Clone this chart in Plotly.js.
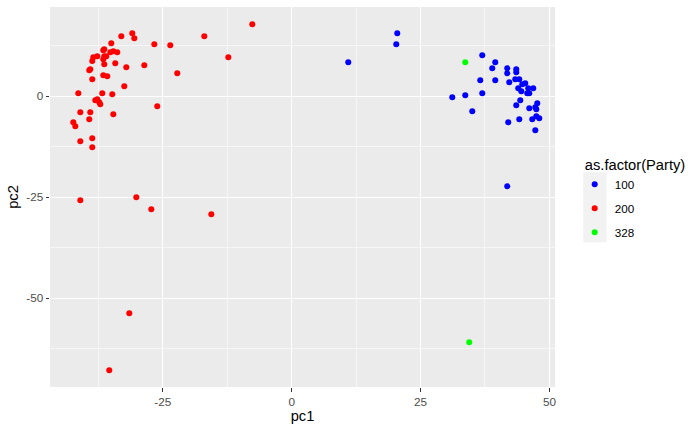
<!DOCTYPE html>
<html>
<head>
<meta charset="utf-8">
<script src="https://cdn.plot.ly/plotly-3.0.1.min.js"></script>
<style>html,body{margin:0;padding:0;background:#fff;}#chart{width:700px;height:432px;}</style>
</head>
<body>
<div id="chart"></div>
<script>
// Party 100
var pc1_100 = [20.48, 20.29, 10.98, 36.97, 39.49, 38.91, 41.82, 41.82, 43.57, 43.57,
  36.58, 39.49, 42.21, 43.37, 44.15, 44.73, 45.31, 43.95, 44.54, 45.89,
  46.86, 45.70, 46.09, 36.97, 33.67, 31.15, 44.34, 43.57, 47.64, 46.09,
  47.26, 47.45, 35.03, 42.01, 44.15, 46.67, 47.45, 48.03, 47.26, 41.82];
var pc2_100 = [15.59, 12.87, 8.42, 10.15, 8.42, 6.93, 6.93, 5.69, 6.68, 5.94,
  3.96, 3.96, 3.47, 4.21, 4.21, 2.97, 3.22, 1.98, 1.24, 1.98,
  1.98, 0.74, 0.74, 0.74, 0.25, -0.25, -0.99, -2.23, -1.73, -2.97,
  -2.72, -3.22, -3.71, -6.44, -5.69, -5.69, -4.95, -5.45, -8.42, -22.28];
// Party 200
var pc1_200 = [-7.64, -16.95, -12.29, -33.05, -30.92, -30.53, -26.65, -23.55, -34.99, -36.54,
  -36.35, -35.18, -34.60, -33.83, -38.48, -37.71, -38.68, -36.54, -35.96, -36.35,
  -36.35, -34.22, -28.59, -32.08, -39.26, -39.07, -22.19, -36.54, -35.77, -38.68,
  -32.47, -41.39, -36.74, -34.80, -38.09, -37.71, -37.32, -37.13, -26.07, -41.00,
  -39.07, -34.60, -39.26, -42.36, -41.97, -38.68, -41.00, -38.68, -41.00, -30.14,
  -27.23, -15.59, -31.50, -35.38];
var pc2_200 = [17.82, 14.85, 9.65, 14.85, 15.59, 14.36, 12.87, 12.62, 13.12, 11.39,
  11.63, 10.89, 11.14, 10.89, 9.65, 9.90, 8.74, 9.16, 9.90, 9.90,
  7.92, 8.17, 7.67, 7.18, 6.44, 6.68, 5.69, 5.20, 4.95, 4.21,
  2.48, 0.74, 0.74, 0.50, -0.99, -0.74, -1.49, -1.98, -2.48, -3.96,
  -3.96, -4.46, -5.69, -6.44, -7.43, -10.40, -11.14, -12.62, -25.74, -25.00,
  -27.97, -29.21, -53.71, -67.82];
// Party 328
var pc1_328 = [33.67, 34.45];
var pc2_328 = [8.42, -60.89];

var parties = ['100', '200', '328'];
var colors = ['#0000FF', '#FF0000', '#00FF00'];
var xs = [pc1_100, pc1_200, pc1_328];
var ys = [pc2_100, pc2_200, pc2_328];

var font = 'Liberation Sans, Arial, sans-serif';
var traces = parties.map(function (p, i) {
  return {
    type: 'scatter', mode: 'markers', name: p, legendgroup: 'g' + i,
    x: xs[i], y: ys[i],
    marker: {color: colors[i], size: 6, line: {width: 0}},
    hoverinfo: 'x+y+name'
  };
});

var axisCommon = {
  showline: false, zeroline: false,
  gridcolor: '#FFFFFF', gridwidth: 1.1,
  ticks: 'outside', ticklen: 3.5, tickwidth: 1.1, tickcolor: '#333333',
  tickfont: {family: font, size: 11.7, color: '#4D4D4D'},
  minor: {showgrid: true, gridcolor: '#FFFFFF', gridwidth: 0.55, ticks: ''}
};

var layout = {
  width: 700, height: 432,
  margin: {l: 50, r: 145, t: 7, b: 45},
  paper_bgcolor: '#FFFFFF', plot_bgcolor: '#EBEBEB',
  font: {family: font},
  xaxis: Object.assign({}, axisCommon, {
    range: [-46.88, 51.08], tickvals: [-25, 0, 25, 50], ticktext: ['-25', '0', '25', '50'],
    minor: Object.assign({}, axisCommon.minor, {tickvals: [-37.5, -12.5, 12.5, 37.5]}),
    title: {text: 'pc1', font: {family: font, size: 14.7, color: '#000000'}, standoff: 4}
  }),
  yaxis: Object.assign({}, axisCommon, {
    range: [-71.95, 22.11], tickvals: [-50, -25, 0], ticktext: ['-50', '-25', '0'],
    minor: Object.assign({}, axisCommon.minor, {tickvals: [-62.5, -37.5, -12.5, 12.5]}),
    title: {text: 'pc2', font: {family: font, size: 14.7, color: '#000000'}, standoff: 4}
  }),
  showlegend: true,
  legend: {
    x: 1.039, xanchor: 'left', y: 0.622, yanchor: 'top',
    bgcolor: 'rgba(0,0,0,0)', borderwidth: 0,
    tracegroupgap: 5,
    title: {text: '\u00a0\u00a0as.factor(Party)', font: {family: font, size: 14.7, color: '#000000'}},
    font: {family: font, size: 11.7, color: '#000000'}
  },
  shapes: [{
    type: 'rect', xref: 'paper', yref: 'paper', layer: 'below',
    x0: 1.056, x1: 1.102, y0: 0.381, y1: 0.565,
    fillcolor: '#F2F2F2', line: {width: 0}
  }]
};

Plotly.newPlot('chart', traces, layout, {displayModeBar: false, staticPlot: true});
</script>
</body>
</html>
